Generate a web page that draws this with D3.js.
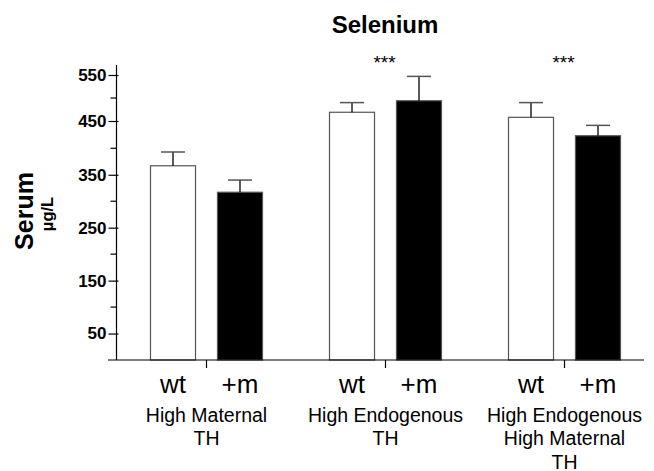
<!DOCTYPE html>
<html><head><meta charset="utf-8">
<script src="https://cdn.jsdelivr.net/npm/d3@7"></script>
<style>body{margin:0;background:#fff}svg{display:block}text{font-family:"Liberation Sans",Arial,sans-serif}</style>
</head><body>
<script>
const groups = ["High Maternal|TH", "High Endogenous|TH", "High Endogenous|High Maternal|TH"];
const genotypes = ["wt", "+m"];
const means = [[367, 317], [469, 494], [458, 423]];
const sems = [[26, 23], [21, 53], [32, 19]];
const significance = ["", "***", "***"];
const majorTicks = [50, 150, 250, 350, 450, 550];
const minorTicks = [100, 200, 300, 400, 500];

const W = 654, H = 471;
const svg = d3.select("body").append("svg").attr("width", W).attr("height", H);

const y = d3.scaleLinear().domain([0, 400, 450, 550]).range([360, 148.3, 121, 75]);
const x0 = d3.scaleBand().domain(groups).range([117, 654]).padding(0);
const x1 = d3.scaleBand().domain(genotypes).range([0, x0.bandwidth()]).paddingInner(0.328).paddingOuter(0.5);
const axisX = 116.5;

// title
svg.append("text").attr("x", 385).attr("y", 33).attr("text-anchor", "middle")
  .attr("font-size", 24).attr("font-weight", "bold").text("Selenium");

// bars
const data = [];
groups.forEach((g, gi) => genotypes.forEach((t, ti) => data.push({g, t, v: means[gi][ti], e: sems[gi][ti], fill: ti === 0 ? "#fff" : "#000"})));
const bars = svg.append("g");
bars.selectAll("rect").data(data).join("rect")
  .attr("x", d => x0(d.g) + x1(d.t))
  .attr("y", d => y(d.v))
  .attr("width", x1.bandwidth())
  .attr("height", d => y(0) - y(d.v))
  .attr("fill", d => d.fill)
  .attr("stroke", "#555").attr("stroke-width", 1.2);
// error bars
bars.selectAll("line.err").data(data).join("line").attr("class", "err")
  .attr("x1", d => x0(d.g) + x1(d.t) + x1.bandwidth() / 2)
  .attr("x2", d => x0(d.g) + x1(d.t) + x1.bandwidth() / 2)
  .attr("y1", d => y(d.v)).attr("y2", d => y(d.v + d.e))
  .attr("stroke", "#000").attr("stroke-width", 1.3);
bars.selectAll("line.cap").data(data).join("line").attr("class", "cap")
  .attr("x1", d => x0(d.g) + x1(d.t) + x1.bandwidth() / 2 - 12)
  .attr("x2", d => x0(d.g) + x1(d.t) + x1.bandwidth() / 2 + 12)
  .attr("y1", d => y(d.v + d.e)).attr("y2", d => y(d.v + d.e))
  .attr("stroke", "#555").attr("stroke-width", 1.5);

// baseline
svg.append("line").attr("x1", 108).attr("x2", 644).attr("y1", y(0)).attr("y2", y(0))
  .attr("stroke", "#000").attr("stroke-width", 1.2);
// group separator ticks
svg.selectAll("line.sep").data(groups).join("line").attr("class", "sep")
  .attr("x1", d => x0(d) + x0.bandwidth() / 2).attr("x2", d => x0(d) + x0.bandwidth() / 2)
  .attr("y1", y(0)).attr("y2", y(0) + 8).attr("stroke", "#000").attr("stroke-width", 1.2);

// y axis
const yAxis = d3.axisLeft(y).tickValues(majorTicks).tickSize(8).tickPadding(2).tickFormat(d3.format("d"));
const ga = svg.append("g").attr("transform", `translate(${axisX},0)`).call(yAxis);
ga.select(".domain").remove();
ga.selectAll(".tick line").attr("x2", -8).attr("x1", 2).attr("stroke-width", 1.2);
ga.selectAll(".tick text").attr("font-size", 17).attr("font-weight", "bold").attr("fill", "#000")
  .attr("font-family", "Liberation Sans, Arial, sans-serif").attr("x", -10);
svg.append("g").selectAll("line").data(minorTicks).join("line")
  .attr("x1", axisX - 6).attr("x2", axisX).attr("y1", d => y(d)).attr("y2", d => y(d))
  .attr("stroke", "#000").attr("stroke-width", 1.2);
svg.append("line").attr("x1", axisX).attr("x2", axisX).attr("y1", y(572)).attr("y2", y(0))
  .attr("stroke", "#000").attr("stroke-width", 1.2);

// y label
svg.append("text").attr("transform", "translate(33,211) rotate(-90)").attr("text-anchor", "middle")
  .attr("font-size", 25).attr("font-weight", "bold").text("Serum");
svg.append("text").attr("transform", "translate(53,214) rotate(-90)").attr("text-anchor", "middle")
  .attr("font-size", 16.5).attr("font-weight", "bold").text("µg/L");

// x labels
data.forEach(d => {
  svg.append("text").attr("x", x0(d.g) + x1(d.t) + x1.bandwidth() / 2).attr("y", 393)
    .attr("text-anchor", "middle").attr("font-size", 26).text(d.t);
});
groups.forEach(g => {
  const t = svg.append("text").attr("text-anchor", "middle").attr("font-size", 19.5);
  g.split("|").forEach((line, i) => {
    t.append("tspan").attr("x", x0(g) + x0.bandwidth() / 2).attr("y", 421.5 + i * 23.5).text(line);
  });
});

// significance
groups.forEach((g, i) => {
  if (significance[i]) svg.append("text").attr("x", x0(g) + x0.bandwidth() / 2 - 1).attr("y", 69)
    .attr("text-anchor", "middle").attr("font-size", 19).text(significance[i]);
});
</script>
</body></html>
